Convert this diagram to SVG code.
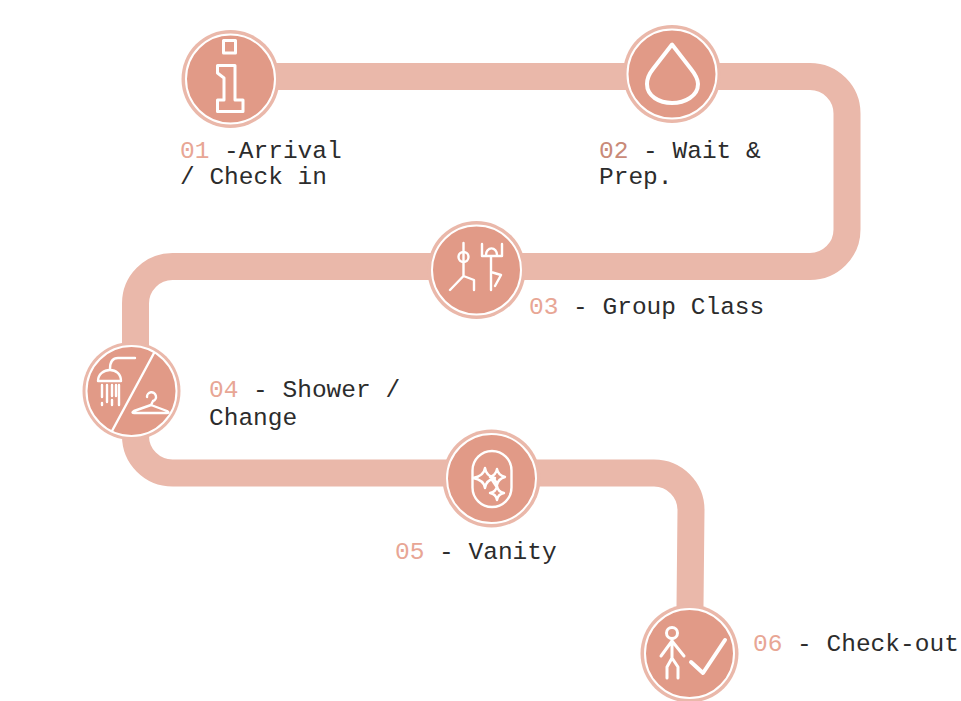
<svg xmlns="http://www.w3.org/2000/svg" width="961" height="701" viewBox="0 0 961 701">
<style>
.band{fill:none;stroke:#eab8aa;stroke-width:27}
.outer{fill:#eab8aa}
.inner{fill:#e19a87;stroke:#fff;stroke-width:2}
.ic{fill:none;stroke:#fff;stroke-width:3;stroke-linecap:round;stroke-linejoin:round}
.ict{fill:none;stroke:#fff;stroke-width:2.4;stroke-linecap:round;stroke-linejoin:round}
.thick{stroke-width:4}
text{font-family:"Liberation Mono","DejaVu Sans Mono",monospace;font-size:24.5px;fill:#2c2c2c}
.n{fill:#e8a695}
.n2{fill:#c98a78}
</style>
<rect width="961" height="701" fill="#fff"/>
<g id="connectors">
<path class="band" d="M230 76.500H810A37 37 0 0 1 847 113.500V229.500A37 37 0 0 1 810 266.500H172.500A37 37 0 0 0 135.500 303.500V436A37 37 0 0 0 172.500 473H654A37 37 0 0 1 691 510L689.500 654"/>
</g>
<g id="node-01">
<circle class="outer" cx="230.500" cy="79" r="49"/><circle class="inner" cx="230.500" cy="79" r="44.500"/>
<path class="ic" d="M223.500 40.500H235.500V53H223.500ZM217.500 65.500H235V100H243V111.500H217.500V100H224V78L217.500 73Z"/>
<text x="180" y="158"><tspan class="n">01</tspan> -Arrival</text>
<text x="180" y="184">/ Check in</text>
</g>
<g id="node-02">
<circle class="outer" cx="672" cy="74" r="49"/><circle class="inner" cx="672" cy="74" r="44.500"/>
<path class="ic thick" d="M672 44.500L653 69C649 74 647 79 647 84C647 96 659 103 672 103C685 103 698 96 698 84C698 79 695 74 691 69Z"/>
<text x="599" y="158"><tspan class="n2">02</tspan> - Wait &amp;</text>
<text x="599" y="184">Prep.</text>
</g>
<g id="node-03">
<circle class="outer" cx="476.500" cy="270" r="49"/><circle class="inner" cx="476.500" cy="270" r="44.500"/>
<path class="ict" d="M463.500 243V276M450 290L463.500 276L474 280V290"/>
<circle class="ict" cx="463.500" cy="257" r="5"/>
<path class="ict" d="M482 244V256H502V244M491 256V290M491 272L501 275L495 286"/>
<path class="ict" d="M486 255A5 6 0 0 1 497 255"/>
<text x="529" y="314"><tspan class="n">03</tspan> - Group Class</text>
</g>
<g id="node-04">
<circle class="outer" cx="131.500" cy="391" r="49"/><circle class="inner" cx="131.500" cy="391" r="45"/>
<path class="ict" d="M154 353L112 431"/>
<path class="ict" d="M135 358H118Q110 358 110 369"/>
<path class="ict" d="M98 381C98 374 104 370 110 370C116 370 121 374 121 381Z"/>
<path class="ict" d="M102 385V397M102 403V405M107 385V402M112 385V396M112 400V405M116 385V396M119 385V405"/>
<path class="ict" d="M147 397A4.500 4.500 0 1 1 153 401L151 405L167 411Q170 413 167 413H134Q131 413 134 411L151 405"/>
<text x="209" y="397"><tspan class="n">04</tspan> - Shower /</text>
<text x="209" y="425">Change</text>
</g>
<g id="node-05">
<circle class="outer" cx="491.500" cy="478.500" r="49"/><circle class="inner" cx="491.500" cy="478.500" r="44.500"/>
<rect class="ict" x="472.500" y="451" width="39" height="56" rx="19.500"/>
<path class="ict" d="M485 468Q486 476 495 478Q486 480 485 488Q484 480 473 478Q484 476 485 468Z"/>
<path class="ict" d="M497 469Q498 475 505 477Q498 479 497 485Q496 479 490 477Q496 475 497 469Z"/>
<path class="ict" d="M497 486Q498 492 504 493Q498 494 497 500Q496 494 490 493Q496 492 497 486Z"/>
<path class="ict" d="M492 480L496 486"/>
<text x="395" y="559"><tspan class="n">05</tspan> - Vanity</text>
</g>
<g id="node-06">
<circle class="outer" cx="689.500" cy="653.500" r="49"/><circle class="inner" cx="689.500" cy="653.500" r="44.500"/>
<circle class="ic" cx="672" cy="633" r="5.500"/>
<path class="ic" d="M672 639V658M672 641L661 656M672 641L684 656M672 658L667 667V678M672 658L678 667V678"/>
<path class="ic thick" d="M691 662L703 673L725 640"/>
<text x="753" y="651"><tspan class="n">06</tspan> - Check-out</text>
</g>
</svg>
